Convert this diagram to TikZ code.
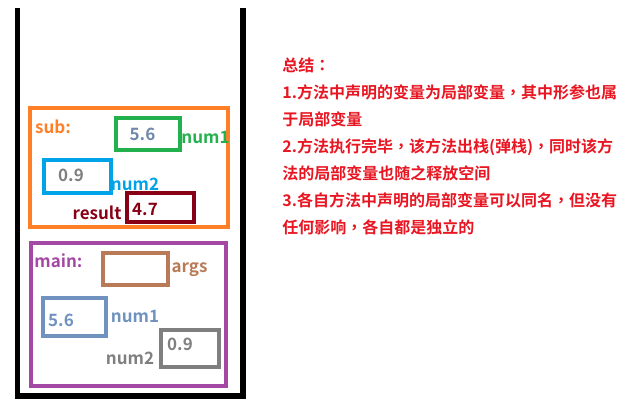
\documentclass[tikz,border=0pt]{standalone}
\usepackage{fontspec}
\setmainfont{Noto Sans CJK SC}[BoldFont={Noto Sans CJK SC Bold}]
\newfontfamily\cjkbold{Noto Sans CJK SC Bold}
\newfontfamily\cjkpunct{Noto Sans CJK TC Bold}
\newcommand{\pcomma}{{\cjkpunct ，}}
\newcommand{\pcolon}{{\cjkpunct ：}}

\definecolor{frameOrange}{RGB}{255,127,39}
\definecolor{frameGreen}{RGB}{34,177,76}
\definecolor{frameBlue}{RGB}{0,162,232}
\definecolor{frameDarkRed}{RGB}{136,0,21}
\definecolor{framePurple}{RGB}{163,73,164}
\definecolor{frameBrown}{RGB}{185,122,87}
\definecolor{frameSteel}{RGB}{112,146,190}
\definecolor{frameGrey}{RGB}{127,127,127}
\definecolor{valueSteel}{RGB}{110,135,170}
\definecolor{noteRed}{RGB}{232,22,34}

\begin{document}
\begin{tikzpicture}[x=0.5pt,y=-0.5pt]
		\tikzset{frame/.style = {draw, line width=2pt, inner sep=0pt},
			varbox/.style = {draw, line width=2pt, inner sep=0pt},
			txt/.style = {font=\cjkbold\fontsize{8.5pt}{10pt}\selectfont, inner sep=0pt, anchor=base}}

		\useasboundingbox (0,0) rectangle (634,414);

		% stack
		\draw[line width=2.75pt] (17.5,8) -- (17.5,396) -- (243,396) -- (243,8);

		% sub frame
		\node[frame, frameOrange, minimum width=99pt, minimum height=59.5pt] (S_0) at (129,167.5) {};
		\node[txt, frameOrange] (S_lab) at (53,133) {sub:};

		\node[varbox, frameGreen, minimum width=32pt, minimum height=16pt] (S_1) at (148,134) {};
		\node[txt, valueSteel] (S_1v) at (142.5,140) {5.6};
		\node[txt, frameGreen] (S_1n) at (205.5,143) {num1};

		\node[varbox, frameBlue, minimum width=33.5pt, minimum height=16.5pt] (S_2) at (77.5,176.5) {};
		\node[txt, frameGrey] (S_2v) at (71,181) {0.9};
		\node[txt, frameBlue] (S_2n) at (135,190) {num2};

		\node[varbox, frameDarkRed, minimum width=33.5pt, minimum height=14.5pt] (S_3) at (160.5,207.5) {};
		\node[txt, frameDarkRed] (S_3v) at (145,215) {4.7};
		\node[txt, frameDarkRed] (S_3n) at (97,219) {result};

		% main frame
		\node[frame, framePurple, minimum width=97.5pt, minimum height=71.5pt] (M_0) at (128.5,314.5) {};
		\node[txt, framePurple] (M_lab) at (58.5,267) {main:};

		\node[varbox, frameBrown, minimum width=32.5pt, minimum height=16pt] (M_1) at (135.5,269) {};
		\node[txt, frameBrown] (M_1n) at (189.5,272) {args};

		\node[varbox, frameSteel, minimum width=31.5pt, minimum height=19pt] (M_2) at (74.5,317) {};
		\node[txt, frameSteel] (M_2v) at (61,326) {5.6};
		\node[txt, frameSteel] (M_2n) at (135,322) {num1};

		\node[varbox, frameGrey, minimum width=29pt, minimum height=18.5pt] (M_3) at (190,348.5) {};
		\node[txt, frameGrey] (M_3v) at (180,350) {0.9};
		\node[txt, frameGrey] (M_3n) at (130,364) {num2};

		% summary
		\node[anchor=north west, inner sep=0pt, align=left, text=noteRed,
			font=\cjkbold\fontsize{8pt}{13.5pt}\selectfont] (note) at (282,57)
			{总结\pcolon\\
			1.方法中声明的变量为局部变量\pcomma 其中形参也属\\
			于局部变量\\
			2.方法执行完毕\pcomma 该方法出栈(弹栈)\pcomma 同时该方\\
			法的局部变量也随之释放空间\\
			3.各自方法中声明的局部变量可以同名\pcomma 但没有\\
			任何影响\pcomma 各自都是独立的};

	\end{tikzpicture}
\end{document}
